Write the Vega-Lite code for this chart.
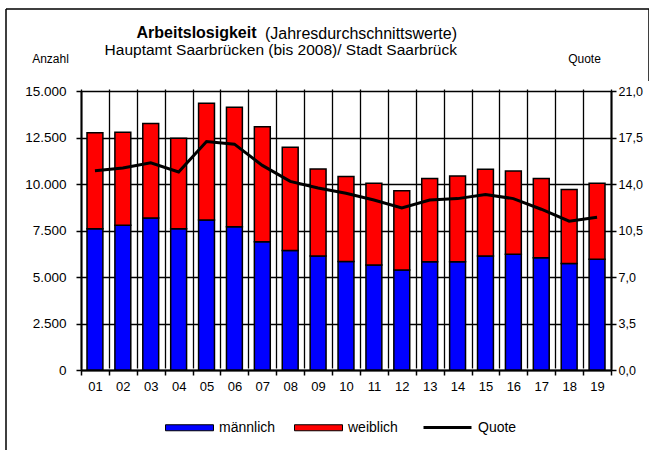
{
  "$schema": "https://vega.github.io/schema/vega-lite/v6.json",
  "width": 643,
  "height": 441,
  "autosize": {"type": "none"},
  "padding": {"left": 6, "top": 9, "right": 0, "bottom": 0},
  "background": "white",
  "title": {
    "text": "(Jahresdurchschnittswerte)",
    "subtitle": "Hauptamt Saarbrücken (bis 2008)/ Stadt Saarbrück",
    "frame": "group",
    "anchor": "start",
    "align": "right",
    "dx": 451,
    "offset": -49,
    "font": "Liberation Sans",
    "fontSize": 16,
    "fontWeight": "normal",
    "color": "black",
    "subtitleFont": "Liberation Sans",
    "subtitleFontSize": 15.5,
    "subtitleColor": "black",
    "subtitlePadding": 0.5
  },
  "datasets": {
    "bars": [
      {"year": "01", "sex": "männlich", "count": 7600}, {"year": "01", "sex": "weiblich", "count": 5160},
      {"year": "02", "sex": "männlich", "count": 7780}, {"year": "02", "sex": "weiblich", "count": 5000},
      {"year": "03", "sex": "männlich", "count": 8170}, {"year": "03", "sex": "weiblich", "count": 5080},
      {"year": "04", "sex": "männlich", "count": 7600}, {"year": "04", "sex": "weiblich", "count": 4855},
      {"year": "05", "sex": "männlich", "count": 8060}, {"year": "05", "sex": "weiblich", "count": 6280},
      {"year": "06", "sex": "männlich", "count": 7700}, {"year": "06", "sex": "weiblich", "count": 6420},
      {"year": "07", "sex": "männlich", "count": 6900}, {"year": "07", "sex": "weiblich", "count": 6180},
      {"year": "08", "sex": "männlich", "count": 6420}, {"year": "08", "sex": "weiblich", "count": 5550},
      {"year": "09", "sex": "männlich", "count": 6130}, {"year": "09", "sex": "weiblich", "count": 4670},
      {"year": "10", "sex": "männlich", "count": 5840}, {"year": "10", "sex": "weiblich", "count": 4560},
      {"year": "11", "sex": "männlich", "count": 5650}, {"year": "11", "sex": "weiblich", "count": 4390},
      {"year": "12", "sex": "männlich", "count": 5380}, {"year": "12", "sex": "weiblich", "count": 4260},
      {"year": "13", "sex": "männlich", "count": 5820}, {"year": "13", "sex": "weiblich", "count": 4480},
      {"year": "14", "sex": "männlich", "count": 5820}, {"year": "14", "sex": "weiblich", "count": 4610},
      {"year": "15", "sex": "männlich", "count": 6130}, {"year": "15", "sex": "weiblich", "count": 4660},
      {"year": "16", "sex": "männlich", "count": 6220}, {"year": "16", "sex": "weiblich", "count": 4480},
      {"year": "17", "sex": "männlich", "count": 6040}, {"year": "17", "sex": "weiblich", "count": 4260},
      {"year": "18", "sex": "männlich", "count": 5730}, {"year": "18", "sex": "weiblich", "count": 3980},
      {"year": "19", "sex": "männlich", "count": 5950}, {"year": "19", "sex": "weiblich", "count": 4090}
    ],
    "quote": [
      {"year": "01", "quote": 15.0}, {"year": "02", "quote": 15.2}, {"year": "03", "quote": 15.6},
      {"year": "04", "quote": 14.9}, {"year": "05", "quote": 17.2}, {"year": "06", "quote": 17.0},
      {"year": "07", "quote": 15.4}, {"year": "08", "quote": 14.2}, {"year": "09", "quote": 13.7},
      {"year": "10", "quote": 13.3}, {"year": "11", "quote": 12.8}, {"year": "12", "quote": 12.2},
      {"year": "13", "quote": 12.8}, {"year": "14", "quote": 12.9}, {"year": "15", "quote": 13.2},
      {"year": "16", "quote": 12.9}, {"year": "17", "quote": 12.1}, {"year": "18", "quote": 11.2},
      {"year": "19", "quote": 11.5}
    ]
  },
  "layer": [
    {
      "data": {"name": "bars"},
      "mark": {"type": "bar", "width": {"band": 0.57}, "stroke": "black", "strokeWidth": 1.5},
      "encoding": {
        "x": {
          "field": "year", "type": "nominal",
          "scale": {"range": [75, 605], "paddingInner": 0, "paddingOuter": 0},
          "axis": {
            "labelAngle": 0, "tickBand": "extent", "grid": true,
            "offset": -80, "labelFontSize": 13, "labelPadding": 5, "tickSize": 5,
            "title": "Arbeitslosigkeit", "titleX": 130, "titleY": -333,
            "titleAlign": "left", "titleBaseline": "alphabetic", "titleAnchor": null,
            "titleFontSize": 16, "titleFontWeight": "bold"
          }
        },
        "y": {
          "field": "count", "type": "quantitative", "stack": "zero",
          "scale": {"domain": [0, 15000], "range": [361, 82], "nice": false},
          "axis": {
            "orient": "left", "offset": -75,
            "values": [0, 2500, 5000, 7500, 10000, 12500, 15000],
            "format": ",d", "grid": true,
            "labelFontSize": 13.5, "labelPadding": 10, "tickSize": 5,
            "title": "Anzahl", "titleAngle": 0, "titleX": -31, "titleY": 53,
            "titleAlign": "center", "titleBaseline": "alphabetic",
            "titleFontSize": 12, "titleFontWeight": "normal"
          }
        },
        "color": {
          "field": "sex", "type": "nominal",
          "scale": {"domain": ["männlich", "weiblich"], "range": ["#0000ff", "#ff0000"]},
          "legend": {
            "orient": "none", "legendX": 159, "legendY": 394, "direction": "horizontal",
            "title": null, "padding": 0,
            "symbolType": "M-1,-0.125H1V0.125H-1Z", "symbolSize": 2304,
            "symbolStrokeColor": "black", "symbolStrokeWidth": 1,
            "labelFontSize": 14, "labelOffset": 5, "columnPadding": 16,
            "labelColor": "black", "labelFont": "Liberation Sans"
          }
        },
        "order": {"field": "sex", "sort": "ascending"}
      }
    },
    {
      "data": {"name": "quote"},
      "mark": {"type": "line", "strokeWidth": 3},
      "encoding": {
        "x": {"field": "year", "type": "nominal"},
        "y": {
          "field": "quote", "type": "quantitative",
          "scale": {"domain": [0, 21], "range": [361, 82], "nice": false},
          "axis": {
            "orient": "right", "offset": -38,
            "values": [0, 3.5, 7, 10.5, 14, 17.5, 21],
            "format": ".1f", "grid": false,
            "labelFontSize": 12.5, "labelPadding": 2, "tickSize": 5,
            "title": "Quote", "titleAngle": 0, "titleX": -27, "titleY": 53,
            "titleAlign": "center", "titleBaseline": "alphabetic",
            "titleFontSize": 12, "titleFontWeight": "normal"
          }
        },
        "stroke": {
          "datum": "Quote",
          "scale": {"domain": ["Quote"], "range": ["#000000"]},
          "legend": {
            "orient": "none", "legendX": 416, "legendY": 393, "direction": "horizontal",
            "title": null, "padding": 0,
            "symbolType": "M-1,0H1", "symbolSize": 2304, "symbolStrokeWidth": 3,
            "labelFontSize": 14, "labelOffset": 5,
            "labelColor": "black", "labelFont": "Liberation Sans"
          }
        }
      }
    }
  ],
  "resolve": {"scale": {"y": "independent"}},
  "config": {
    "font": "Liberation Sans",
    "locale": {"number": {"decimal": ",", "thousands": ".", "grouping": [3], "currency": ["", " €"]}},
    "view": {"stroke": "black", "strokeWidth": 1.5, "strokeDash": [715, 1012, 441, 0]},
    "axis": {
      "domainColor": "black", "domainWidth": 2,
      "tickColor": "black", "tickWidth": 1.5,
      "gridColor": "black", "gridWidth": 1.3, "gridOpacity": 1,
      "labelColor": "black", "labelFont": "Liberation Sans",
      "titleColor": "black", "titleFont": "Liberation Sans"
    }
  }
}
